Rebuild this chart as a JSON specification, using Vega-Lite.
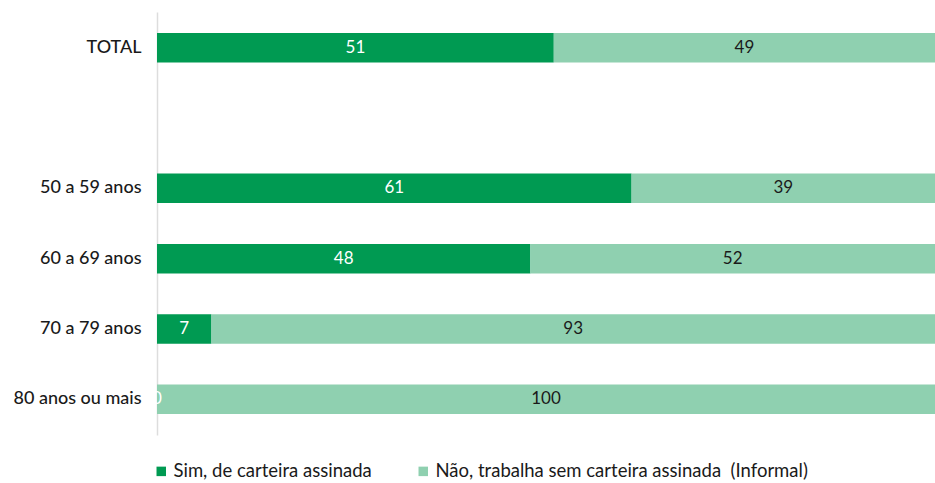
{
  "$schema": "https://vega.github.io/schema/vega-lite/v6.json",
  "autosize": {"type": "none"},
  "width": 778,
  "height": 423,
  "padding": {"left": 157, "top": 12, "right": 0, "bottom": 48},
  "background": "white",
  "config": {
    "view": {"stroke": null},
    "font": "Lato"
  },
  "data": {
    "values": [
      {"faixa": "TOTAL", "tipo": "Sim, de carteira assinada", "valor": 51},
      {"faixa": "TOTAL", "tipo": "Não, trabalha sem carteira assinada  (Informal)", "valor": 49},
      {"faixa": "50 a 59 anos", "tipo": "Sim, de carteira assinada", "valor": 61},
      {"faixa": "50 a 59 anos", "tipo": "Não, trabalha sem carteira assinada  (Informal)", "valor": 39},
      {"faixa": "60 a 69 anos", "tipo": "Sim, de carteira assinada", "valor": 48},
      {"faixa": "60 a 69 anos", "tipo": "Não, trabalha sem carteira assinada  (Informal)", "valor": 52},
      {"faixa": "70 a 79 anos", "tipo": "Sim, de carteira assinada", "valor": 7},
      {"faixa": "70 a 79 anos", "tipo": "Não, trabalha sem carteira assinada  (Informal)", "valor": 93},
      {"faixa": "80 anos ou mais", "tipo": "Sim, de carteira assinada", "valor": 0},
      {"faixa": "80 anos ou mais", "tipo": "Não, trabalha sem carteira assinada  (Informal)", "valor": 100}
    ]
  },
  "encoding": {
    "y": {
      "field": "faixa",
      "type": "nominal",
      "scale": {
        "domain": ["TOTAL", " ", "50 a 59 anos", "60 a 69 anos", "70 a 79 anos", "80 anos ou mais"],
        "paddingInner": 0.58,
        "paddingOuter": 0.3
      },
      "axis": {
        "title": null,
        "ticks": false,
        "domain": true,
        "domainColor": "#dddddd",
        "domainWidth": 1.5,
        "labelFontSize": 18,
        "labelFontWeight": 500,
        "labelColor": "#1a1a1a",
        "labelPadding": 16,
        "labelFont": "Lato"
      }
    }
  },
  "layer": [
    {
      "mark": {"type": "bar"},
      "encoding": {
        "x": {
          "field": "valor",
          "type": "quantitative",
          "stack": "zero",
          "scale": {"domain": [0, 100], "nice": false},
          "axis": null
        },
        "color": {
          "field": "tipo",
          "type": "nominal",
          "sort": ["Sim, de carteira assinada", "Não, trabalha sem carteira assinada  (Informal)"],
          "scale": {
            "domain": ["Sim, de carteira assinada", "Não, trabalha sem carteira assinada  (Informal)"],
            "range": ["#009a52", "#8fd0b0"]
          },
          "legend": {
            "title": null,
            "orient": "none",
            "direction": "horizontal",
            "legendX": -5,
            "legendY": 450,
            "symbolType": "square",
            "symbolSize": 90,
            "symbolStrokeWidth": 0,
            "labelFontSize": 18.5,
            "labelColor": "#1a1a1a",
            "labelOffset": 3,
            "labelLimit": 500,
            "labelExpr": "replace(datum.label, '  ', '\u00a0 ')",
            "columnPadding": 42
          }
        },
        "order": {"field": "tipo", "sort": "descending"}
      }
    },
    {
      "transform": [{"filter": "datum.tipo === 'Sim, de carteira assinada'"}],
      "mark": {"type": "text", "color": "white", "fontSize": 17, "align": "center", "baseline": "middle"},
      "encoding": {
        "x": {"field": "valor", "type": "quantitative", "scale": {"domain": [0, 200], "nice": false}, "axis": null},
        "text": {"field": "valor", "type": "quantitative"}
      }
    },
    {
      "transform": [{"filter": "datum.tipo !== 'Sim, de carteira assinada'"}],
      "mark": {"type": "text", "color": "#1a1a1a", "fontSize": 17, "align": "center", "baseline": "middle"},
      "encoding": {
        "x": {"field": "valor", "type": "quantitative", "scale": {"domain": [0, 200], "nice": false, "reverse": true}, "axis": null},
        "text": {"field": "valor", "type": "quantitative"}
      }
    }
  ],
  "resolve": {"scale": {"x": "independent"}}
}
